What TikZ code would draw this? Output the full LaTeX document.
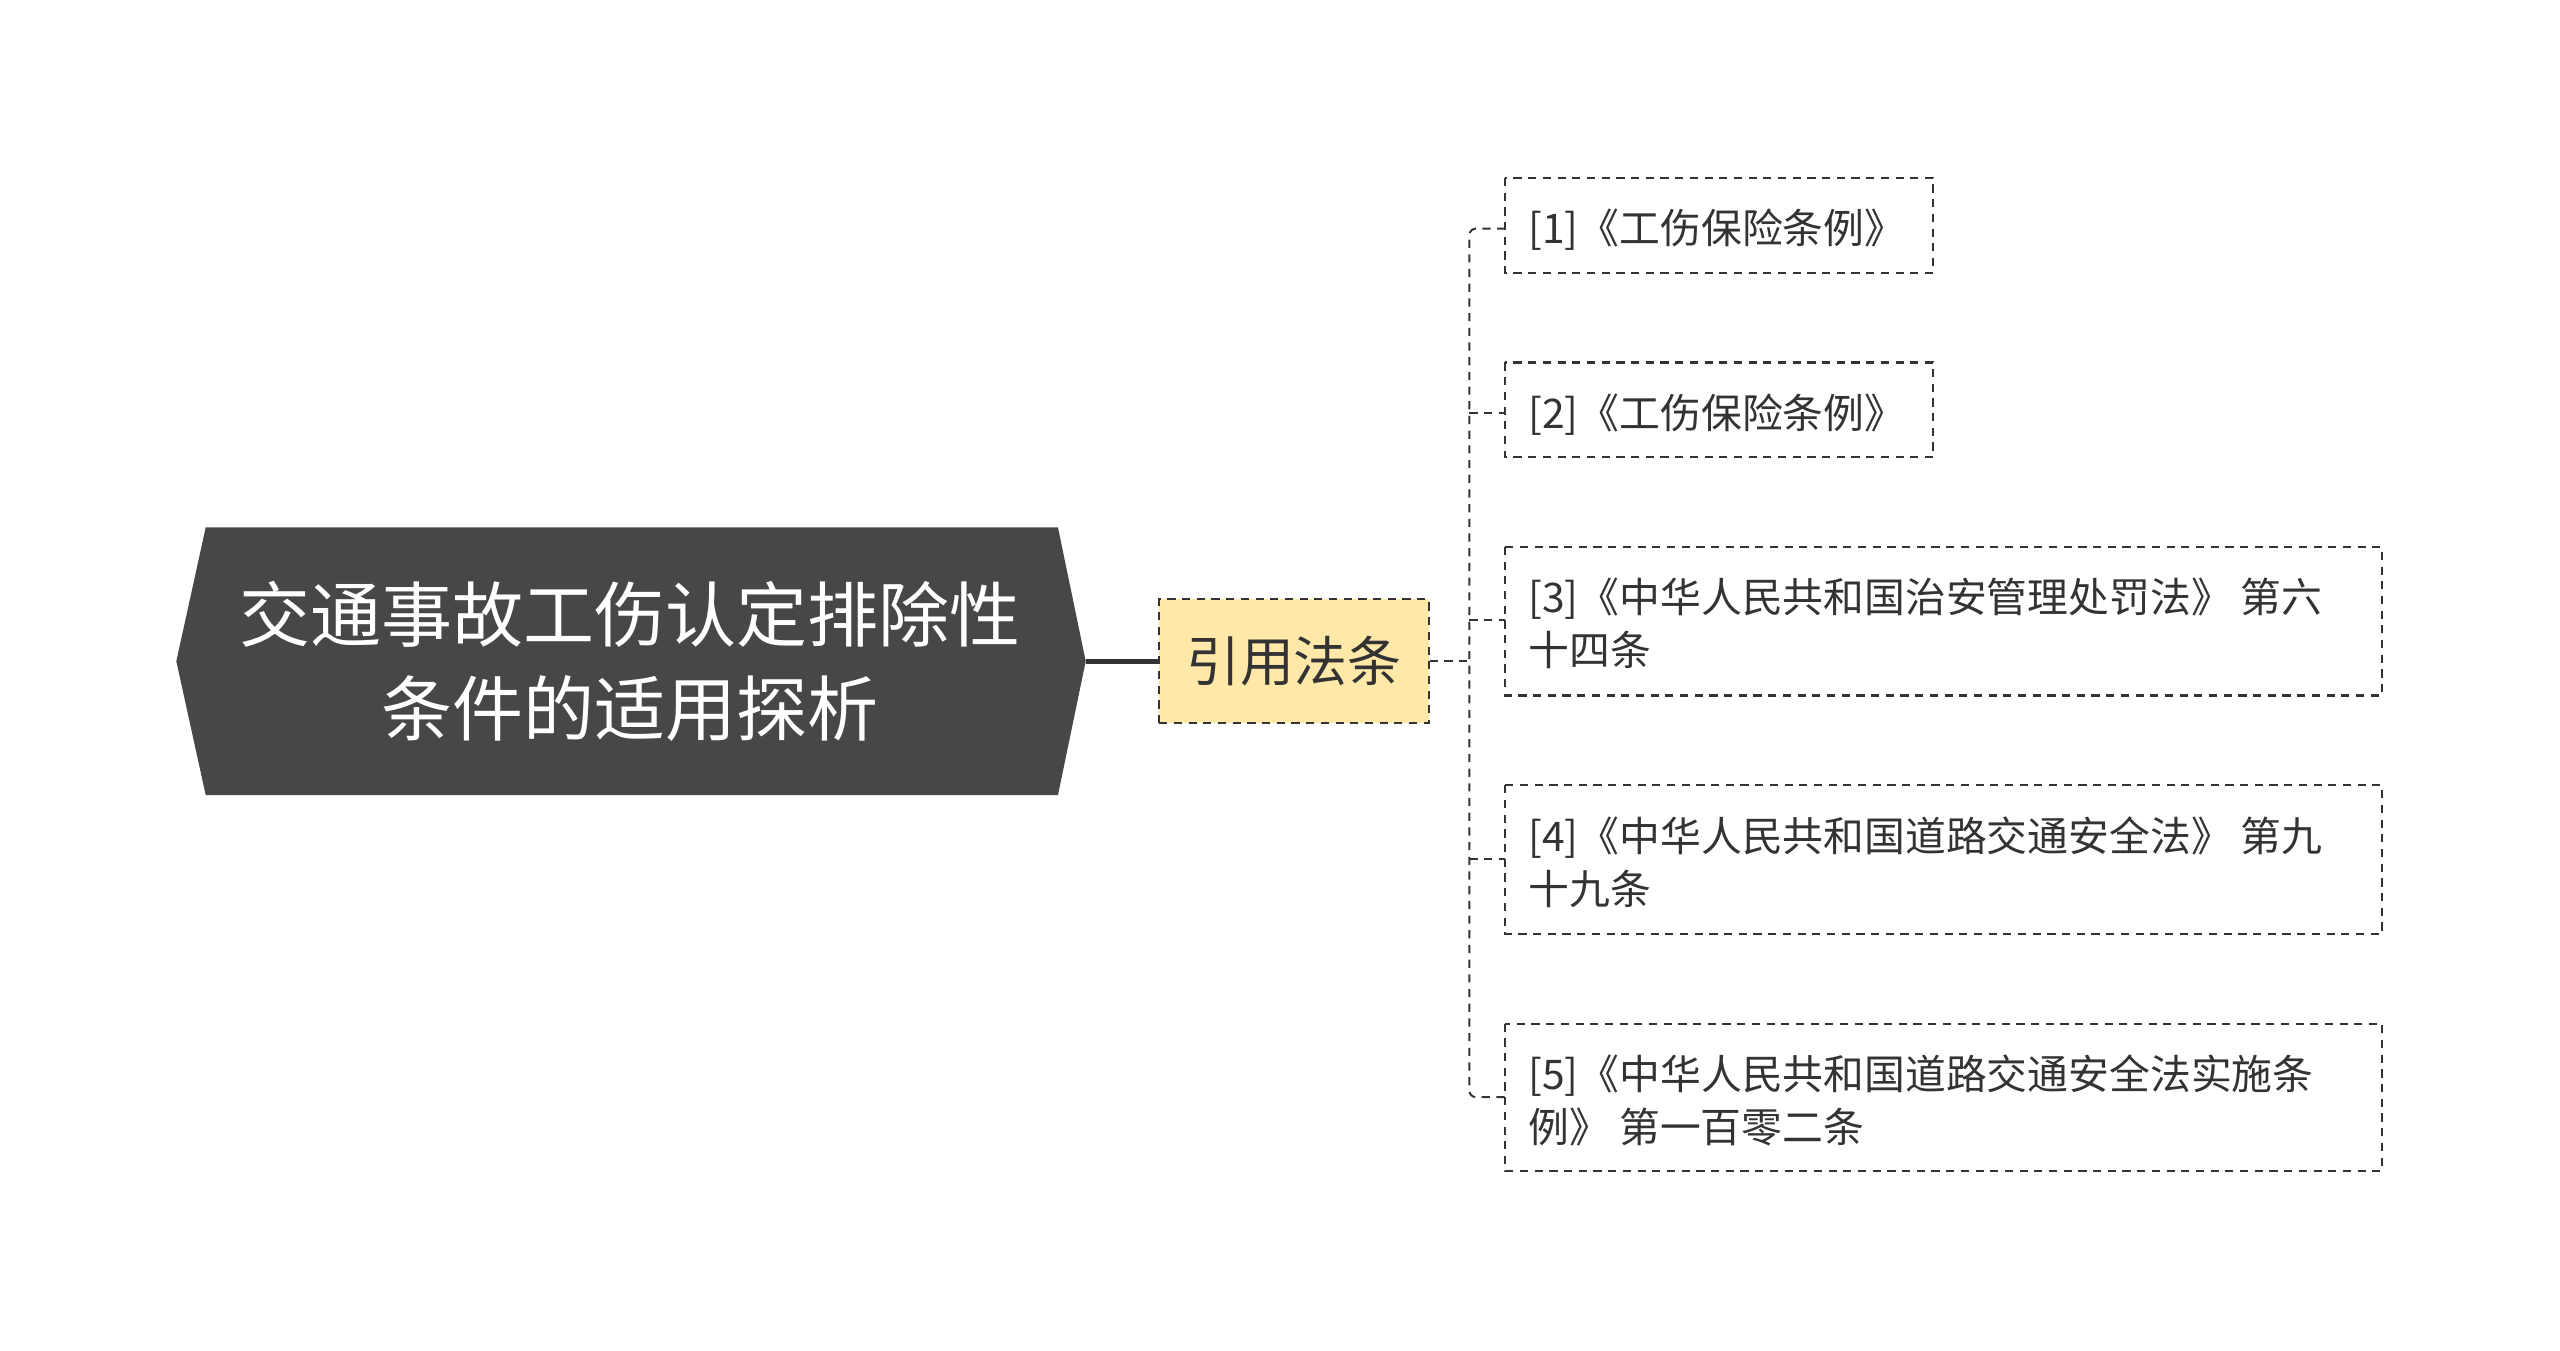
\documentclass[tikz,border=0pt]{standalone}
\usepackage{fontspec}
\setmainfont{Noto Sans CJK SC}
\definecolor{dk}{HTML}{474747}
\definecolor{ln}{HTML}{333333}
\definecolor{yel}{HTML}{FFE8A8}
\begin{document}
\begin{tikzpicture}[x=1pt,y=-1pt,
  leaf/.style={draw=ln,dashed,line width=1.3pt,dash pattern=on 5pt off 4pt,anchor=north west,inner sep=0pt},
  bus/.style={draw=ln,line width=1.2pt,dash pattern=on 5pt off 4pt},
  lt/.style={anchor=north west,align=left,font=\fontsize{25}{32.5}\selectfont,text=ln,inner sep=0pt}]
\useasboundingbox (0,0) rectangle (1568,827);
\fill[dk] (108,405) -- (126,323) -- (648,323) -- (665,405) -- (648,487) -- (126,487) -- cycle;
\node[text=white,align=center,font=\fontsize{43.5}{58}\selectfont] (root) at (386,405) {交通事故工伤认定排除性\\条件的适用探析};
\coordinate (rootR) at (665,405);
\node[draw=ln,fill=yel,line width=1.3pt,dash pattern=on 5pt off 4pt,minimum width=165pt,minimum height=76pt,inner sep=0pt,font=\fontsize{33}{38}\selectfont,text=ln] (mid) at (792.5,405) {引用法条};
\draw[ln,line width=3pt] (rootR) -- (mid.west);
\coordinate (j) at (900,405);
\draw[bus] (mid.east) -- (j);
\draw[leaf] (922,109) rectangle (1184,167);
\draw[leaf] (922,222) rectangle (1184,280);
\draw[leaf] (922,335) rectangle (1459,426);
\draw[leaf] (922,481) rectangle (1459,572);
\draw[leaf] (922,627) rectangle (1459,717);
\node[lt] (t1) at (936,128) {[1]《工伤保险条例》};
\node[lt] (t2) at (936,241) {[2]《工伤保险条例》};
\node[lt] (t3) at (936,354) {[3]《中华人民共和国治安管理处罚法》 第六\\十四条};
\node[lt] (t4) at (936,500) {[4]《中华人民共和国道路交通安全法》 第九\\十九条};
\node[lt] (t5) at (936,646) {[5]《中华人民共和国道路交通安全法实施条\\例》 第一百零二条};
\draw[bus,rounded corners=4pt] (922,140) -- (900,140) -- (900,672) -- (922,672);
\draw[bus] (900,253) -- (922,253);
\draw[bus] (900,380) -- (922,380);
\draw[bus] (900,526) -- (922,526);
\end{tikzpicture}
\end{document}
